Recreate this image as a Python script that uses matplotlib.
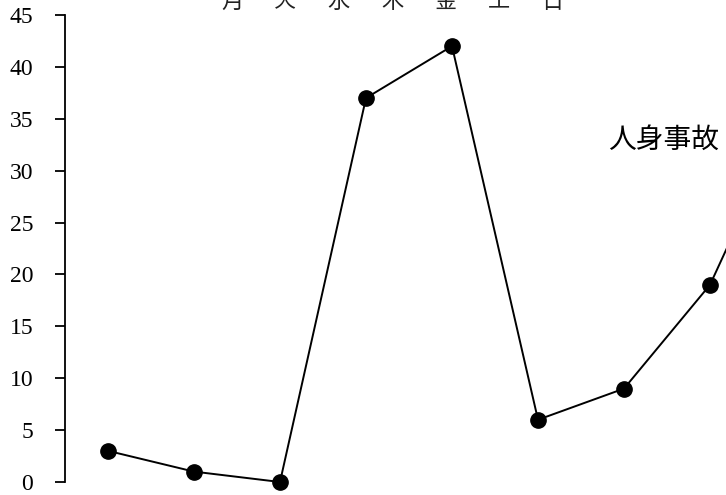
import matplotlib
matplotlib.use("Agg")
import matplotlib.pyplot as plt

# データ（図から読み取り、最後の点は右端の外）
days = ["月", "火", "水", "木", "金", "土", "日"]
accidents = [3, 1, 0, 37, 42, 6, 9, 19, 37]
yticks = [0, 5, 10, 15, 20, 25, 30, 35, 40, 45]
series_label = "人身事故"

cjk = ["Noto Sans CJK JP", "DejaVu Sans"]

fig = plt.figure(figsize=(7.26, 4.95), dpi=100)
ax = fig.add_axes([65 / 726, 13 / 495, 661 / 726, 467 / 495])

x = list(range(len(accidents)))
ax.plot(x, accidents, color="black", linewidth=1.4,
        marker="o", markersize=11, markerfacecolor="black",
        markeredgecolor="black", clip_on=False)

ax.set_xlim(-0.5, 7.186)
ax.set_ylim(0, 45)
ax.set_yticks(yticks)
ax.set_yticklabels([str(v) for v in yticks], family="Liberation Serif", fontsize=17)
ax.tick_params(axis="y", direction="out", length=7, width=1.3, pad=16)
ax.set_xticks([])

for side in ["top", "right", "bottom"]:
    ax.spines[side].set_visible(False)
ax.spines["left"].set_linewidth(1.3)

# 系列ラベル
ax.text(608 / 726, 1 - 140 / 495, series_label, transform=fig.transFigure,
        family=cjk, fontsize=20, ha="left", va="center")

# 上端で切れている曜日の行
for i, d in enumerate(days):
    fig.text((232 + 53.4 * i) / 726, 1 - 1 / 495, d, family=cjk,
             fontsize=16, ha="center", va="center", color="#222222")

fig.savefig("out.png", dpi=100)
